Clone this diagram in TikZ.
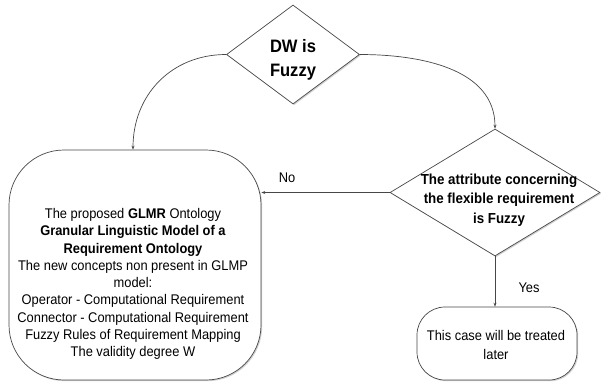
\documentclass[tikz,border=0pt]{standalone}
\usepackage{fontspec}
\setmainfont{Liberation Sans}[FakeStretch=0.92]
\usetikzlibrary{shapes.geometric,arrows.meta,shadows}
\begin{document}
\begin{tikzpicture}[x=1pt,y=-1pt,
  line/.style={draw=black!72,line width=0.7pt},
  arr/.style={line,-{Stealth[length=4pt,width=3pt]}},
  shad/.style={drop shadow={shadow xshift=1.2pt,shadow yshift=-1.2pt,fill=black!30,opacity=0.6}},
  decision/.style={diamond,line,fill=white,shad,inner sep=0pt},
  termbox/.style={rectangle,line,fill=white,shad,inner sep=0pt},
  bodytext/.style={align=center,inner sep=0pt,font=\fontsize{14}{17.3}\selectfont},
  lbl/.style={inner sep=0pt,font=\fontsize{14}{17}\selectfont}
]
\useasboundingbox (0,0) rectangle (601,384);

% shapes
\node[decision,minimum width=133pt,minimum height=99pt] (d1) at (293,54.5) {};
\node[decision,minimum width=210pt,minimum height=127pt] (d2) at (495,192.5) {};
\node[termbox,rounded corners=55pt,minimum width=252pt,minimum height=230pt] (gbox) at (135,265) {};
\node[termbox,rounded corners=28pt,minimum width=160pt,minimum height=73pt] (b2) at (497,343.5) {};

% texts
\node[align=center,inner sep=0pt,font=\fontsize{18}{24}\selectfont\bfseries] (t1) at (293,60) {DW is\\Fuzzy};
\node[align=center,inner sep=0pt,font=\fontsize{14.5}{19.5}\selectfont\bfseries] (t2) at (499,200) {The attribute concerning\\the flexible requirement\\is Fuzzy};
\node[bodytext] (tg) at (133,284) {The proposed \textbf{GLMR} Ontology\\\textbf{Granular Linguistic Model of a}\\\textbf{Requirement Ontology}\\The new concepts non present in GLMP\\model:\\Operator - Computational Requirement\\Connector - Computational Requirement\\Fuzzy Rules of Requirement Mapping\\The validity degree W};
\node[align=center,inner sep=0pt,font=\fontsize{14}{19}\selectfont] (tb) at (496,344.5) {This case will be treated\\later};

% connectors
\draw[arr] (d1.west) to[out=180,in=90,looseness=1.05] ([xshift=-2pt]gbox.north);
\draw[arr] (d1.east) to[out=0,in=90,looseness=1.0] (d2.north);
\draw[arr] (d2.west) -- (d2.west -| gbox.east);
\draw[arr] (d2.south) -- (d2.south |- b2.north);

% labels
\node[lbl] (no) at (287,178) {No};
\node[lbl] (yes) at (529,288) {Yes};
\end{tikzpicture}
\end{document}
